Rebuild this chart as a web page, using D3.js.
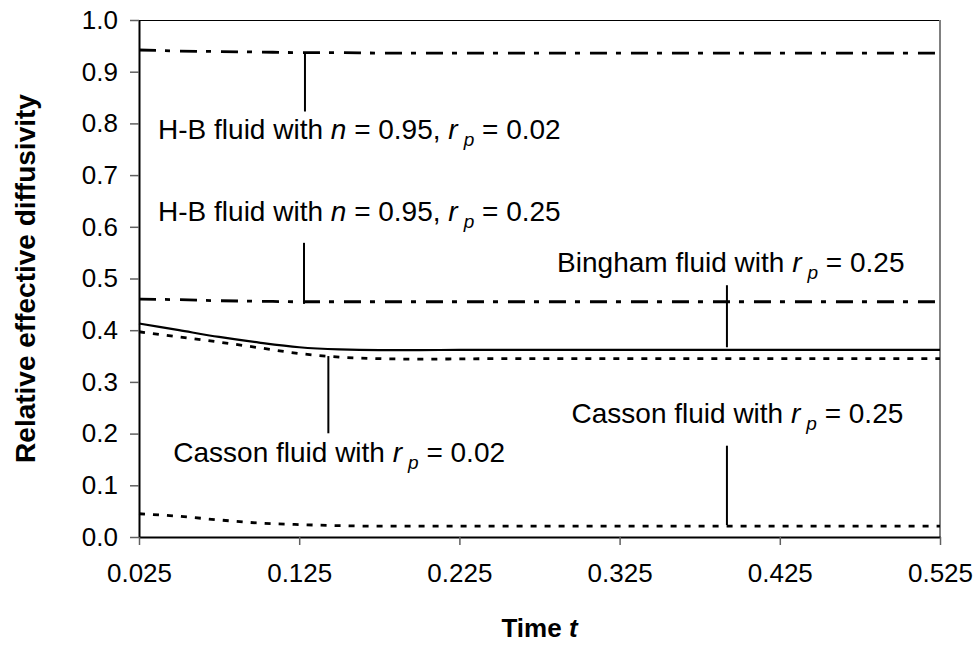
<!DOCTYPE html>
<html>
<head>
<meta charset="utf-8">
<script src="https://cdn.jsdelivr.net/npm/d3@7"></script>
<style>
  html, body { margin: 0; padding: 0; background: #fff; }
  svg { display: block; }
  text { font-family: "Liberation Sans", Arial, sans-serif; white-space: pre; }
</style>
</head>
<body>
<svg id="chart" width="979" height="646"></svg>
<script>
// Sampling times
const times = [0.025, 0.05, 0.075, 0.1, 0.125, 0.15, 0.175, 0.2, 0.225, 0.25, 0.275,
               0.3, 0.325, 0.35, 0.375, 0.4, 0.425, 0.45, 0.475, 0.5, 0.525];

// Relative effective diffusivity for each fluid model
const hbN095Rp002 = [0.942, 0.940, 0.939, 0.938, 0.937, 0.937, 0.936, 0.936, 0.936, 0.936, 0.936,
                     0.936, 0.936, 0.936, 0.936, 0.936, 0.936, 0.936, 0.936, 0.936, 0.936];
const hbN095Rp025 = [0.460, 0.459, 0.457, 0.456, 0.455, 0.455, 0.455, 0.455, 0.455, 0.455, 0.455,
                     0.455, 0.455, 0.455, 0.455, 0.455, 0.455, 0.455, 0.455, 0.455, 0.455];
const binghamRp025 = [0.413, 0.400, 0.387, 0.376, 0.367, 0.3628, 0.3615, 0.3615, 0.362, 0.362, 0.362,
                      0.362, 0.362, 0.362, 0.362, 0.362, 0.362, 0.362, 0.362, 0.362, 0.362];
const cassonRp002 = [0.397, 0.387, 0.377, 0.366, 0.355, 0.348, 0.345, 0.344, 0.3445, 0.345, 0.345,
                     0.345, 0.345, 0.345, 0.345, 0.345, 0.345, 0.345, 0.345, 0.345, 0.345];
const cassonRp025 = [0.045, 0.040, 0.033, 0.027, 0.024, 0.022, 0.021, 0.021, 0.021, 0.021, 0.021,
                     0.021, 0.021, 0.021, 0.021, 0.021, 0.021, 0.021, 0.021, 0.021, 0.021];

// Axis ticks
const xTicks = [0.025, 0.125, 0.225, 0.325, 0.425, 0.525];
const yTicks = [0.0, 0.1, 0.2, 0.3, 0.4, 0.5, 0.6, 0.7, 0.8, 0.9, 1.0];

// Labels: text pieces (i = italic, sub = subscript) and leader line in data units
const labels = [
  { parts: [["H-B fluid with "], ["n", "i"], [" = 0.95, "], ["r", "i"], ["p", "sub"], [" = 0.02"]],
    tx: 0.0369, ty: 0.770, lx: 0.1286, ly0: 0.936, ly1: 0.823 },
  { parts: [["H-B fluid with "], ["n", "i"], [" = 0.95, "], ["r", "i"], ["p", "sub"], [" = 0.25"]],
    tx: 0.0369, ty: 0.612, lx: 0.128, ly0: 0.569, ly1: 0.451 },
  { parts: [["Bingham fluid with "], ["r", "i"], ["p", "sub"], [" = 0.25"]],
    tx: 0.286, ty: 0.513, lx: 0.392, ly0: 0.487, ly1: 0.367 },
  { parts: [["Casson fluid with "], ["r", "i"], ["p", "sub"], [" = 0.02"]],
    tx: 0.0464, ty: 0.146, lx: 0.1432, ly0: 0.350, ly1: 0.2006 },
  { parts: [["Casson fluid with "], ["r", "i"], ["p", "sub"], [" = 0.25"]],
    tx: 0.295, ty: 0.220, lx: 0.392, ly0: 0.1766, ly1: 0.0232 }
];

const series = [
  { values: hbN095Rp002, dash: "17,9,5,10", width: 2.8 },
  { values: hbN095Rp025, dash: "17,9,5,10", width: 2.8 },
  { values: binghamRp025, dash: null, width: 2.2 },
  { values: cassonRp002, dash: "6,8", width: 2.8 },
  { values: cassonRp025, dash: "6,8", width: 2.8 }
];

const svg = d3.select("#chart");
const plot = { left: 139, right: 940, top: 20, bottom: 537 };

const x = d3.scaleLinear().domain([0.025, 0.525]).range([plot.left, plot.right]);
const y = d3.scaleLinear().domain([0, 1]).range([plot.bottom, plot.top]);

const TICK_FONT = 26;
const LABEL_FONT = 28;

// Plot frame (top and right)
svg.append("line").attr("x1", plot.left).attr("x2", plot.right)
  .attr("y1", plot.top + 0.5).attr("y2", plot.top + 0.5)
  .attr("stroke", "#000").attr("stroke-width", 1);
svg.append("line").attr("x1", plot.right).attr("x2", plot.right)
  .attr("y1", plot.top).attr("y2", plot.bottom)
  .attr("stroke", "#808080").attr("stroke-width", 2);

// Axes
const yAxis = d3.axisLeft(y).tickValues(yTicks).tickFormat(d3.format(".1f"))
  .tickSizeInner(9).tickSizeOuter(0).tickPadding(12);
const xAxis = d3.axisBottom(x).tickValues(xTicks).tickFormat(d3.format(".3f"))
  .tickSizeInner(8).tickSizeOuter(0).tickPadding(19);

const gy = svg.append("g").attr("transform", `translate(${plot.left},0)`).call(yAxis);
const gx = svg.append("g").attr("transform", `translate(0,${plot.bottom})`).call(xAxis);

[gx, gy].forEach(g => {
  g.select(".domain").attr("stroke", "#000").attr("stroke-width", 2);
  g.selectAll(".tick line").attr("stroke", "#606060").attr("stroke-width", 1.5);
  g.selectAll(".tick text").attr("fill", "#000")
    .style("font-family", '"Liberation Sans", Arial, sans-serif')
    .style("font-size", TICK_FONT + "px");
});

// Series lines
const line = d3.line().x((d, i) => x(times[i])).y(d => y(d)).curve(d3.curveMonotoneX);
series.forEach(s => {
  svg.append("path").datum(s.values)
    .attr("d", line)
    .attr("fill", "none")
    .attr("stroke", "#000")
    .attr("stroke-width", s.width)
    .attr("stroke-dasharray", s.dash);
});

// Leader lines and labels
labels.forEach(a => {
  svg.append("line")
    .attr("x1", x(a.lx)).attr("x2", x(a.lx))
    .attr("y1", y(a.ly0)).attr("y2", y(a.ly1))
    .attr("stroke", "#000").attr("stroke-width", 2);
  const t = svg.append("text")
    .attr("x", x(a.tx)).attr("y", y(a.ty))
    .style("font-size", LABEL_FONT + "px").attr("fill", "#000");
  let shifted = false;
  a.parts.forEach(([str, kind]) => {
    const sp = t.append("tspan").text(str);
    if (kind === "i") sp.style("font-style", "italic");
    if (kind === "sub") {
      sp.style("font-style", "italic").style("font-size", (LABEL_FONT * 0.68) + "px")
        .attr("dx", 6).attr("dy", 7);
      shifted = true;
    } else if (shifted) {
      sp.attr("dy", -7);
      shifted = false;
    }
  });
});

// Axis titles
svg.append("text")
  .attr("x", (plot.left + plot.right) / 2).attr("y", 637)
  .attr("text-anchor", "middle")
  .style("font-size", "26px").style("font-weight", "bold")
  .call(t => {
    t.append("tspan").text("Time ");
    t.append("tspan").text("t").style("font-style", "italic");
  });

svg.append("text")
  .attr("transform", `translate(35,${(plot.top + plot.bottom) / 2}) rotate(-90)`)
  .attr("text-anchor", "middle")
  .style("font-size", "28px").style("font-weight", "bold")
  .text("Relative effective diffusivity");
</script>
</body>
</html>
